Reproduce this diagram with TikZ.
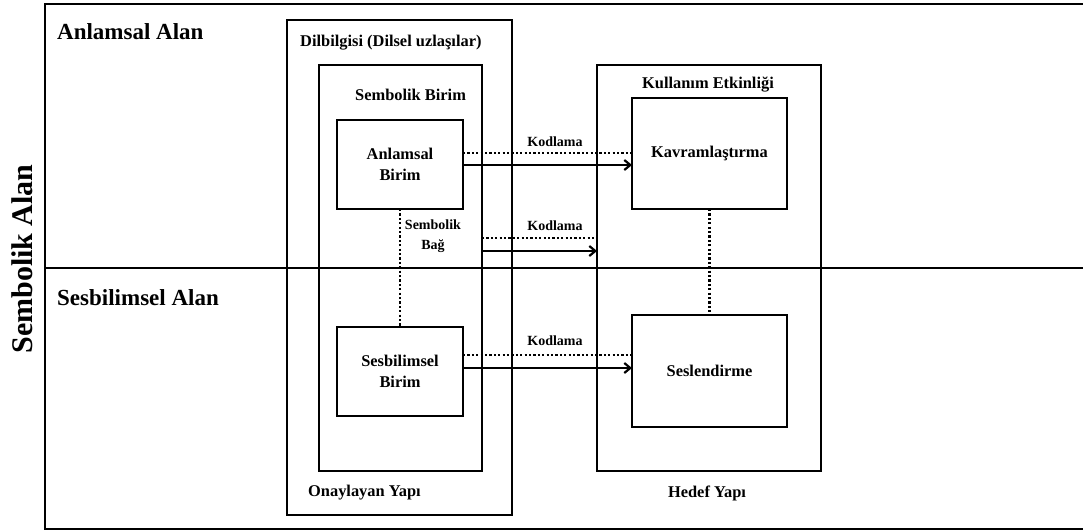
\documentclass[tikz,border=0pt]{standalone}
\usepackage{fontspec}
\setmainfont{Liberation Serif}
\usetikzlibrary{arrows.meta}
\begin{document}
\begin{tikzpicture}[x=1pt,y=-1pt,
  frame/.style={line width=2.5pt},
  box/.style={draw, line width=2.2pt, rectangle, anchor=north west, inner sep=0pt, outer sep=0pt},
  lbl/.style={font=\bfseries\fontsize{16.4}{21}\selectfont, inner sep=0pt, align=center},
  small/.style={font=\bfseries\fontsize{14}{20}\selectfont, inner sep=0pt, align=center},
  area/.style={font=\bfseries\fontsize{23}{27}\selectfont, inner sep=0pt, anchor=west},
  link/.style={line width=2.2pt, dash pattern=on 2.2pt off 2.2pt},
  code/.style={line width=2.2pt, -{Straight Barb[length=6pt,width=10pt]}}]

\useasboundingbox (0,0) rectangle (1083,531);

% outer frame and the division between the two areas
\draw[frame] (1083,4) -- (45,4) -- (45,529) -- (1083,529);
\draw[line width=2.2pt] (45,268) -- (1083,268);

% area labels
\node[area] (semArea) at (57,32) {Anlamsal Alan};
\node[area] (phonArea) at (57,298) {Sesbilimsel Alan};
\node[font=\bfseries\fontsize{30}{34}\selectfont, inner sep=0pt, rotate=90] (symArea) at (22,259) {Sembolik Alan};

% conventional structure (grammar)
\node[box, minimum width=225pt, minimum height=495pt] (gram) at (287,20) {};
\node[lbl, anchor=west] (gramT) at (300,43) {Dilbilgisi (Dilsel uzlaşılar)};
\node[box, minimum width=163pt, minimum height=406pt] (symb) at (319,65) {};
\node[lbl, anchor=west] (symbT) at (355,95) {Sembolik Birim};
\node[box, lbl, minimum width=126pt, minimum height=89pt] (semu) at (337,120) {Anlamsal\\Birim};
\node[box, lbl, minimum width=126pt, minimum height=89pt] (phonu) at (337,327) {Sesbilimsel\\Birim};
\node[lbl, anchor=west] (sanc) at (308,493) {Onaylayan Yapı};

% target structure (usage event)
\node[box, minimum width=224pt, minimum height=406pt] (target) at (597,65) {};
\node[lbl] (usageT) at (708,85) {Kullanım Etkinliği};
\node[box, lbl, minimum width=155pt, minimum height=111pt] (concept) at (632,98) {Kavramlaştırma};
\node[box, lbl, minimum width=155pt, minimum height=112pt] (voc) at (632,315) {Seslendirme};
\node[lbl] (targT) at (707,493) {Hedef Yapı};

% symbolic links
\draw[link] (semu.south) -- (phonu.north);
\draw[link] (concept.south) -- (voc.north);
\node[small] (bond) at (433,236) {Sembolik\\Bağ};

% coding relations
\coordinate (r1) at (0,153);
\coordinate (a1) at (0,165);
\coordinate (r2) at (0,238);
\coordinate (a2) at (0,251);
\coordinate (r3) at (0,355);
\coordinate (a3) at (0,368);

\draw[link] (semu.east |- r1) -- (concept.west |- r1);
\draw[code] (semu.east |- a1) -- (concept.west |- a1);
\node[small] (k1) at (555,142) {Kodlama};

\draw[link] (symb.east |- r2) -- (target.west |- r2);
\draw[code] (symb.east |- a2) -- (target.west |- a2);
\node[small] (k2) at (555,226) {Kodlama};

\draw[link] (phonu.east |- r3) -- (voc.west |- r3);
\draw[code] (phonu.east |- a3) -- (voc.west |- a3);
\node[small] (k3) at (555,341) {Kodlama};
\end{tikzpicture}
\end{document}
